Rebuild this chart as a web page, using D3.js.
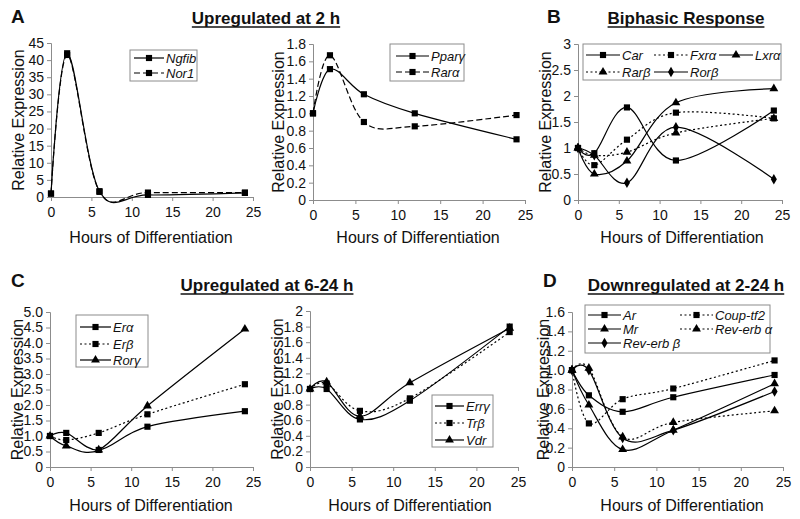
<!DOCTYPE html>
<html>
<head>
<meta charset="utf-8">
<script src="https://cdn.jsdelivr.net/npm/d3@7"></script>
<style>
  body { margin: 0; background: #fff; }
  svg { display: block; font-family: "Liberation Sans", Arial, sans-serif; }
</style>
</head>
<body>
<svg id="chart" width="800" height="519"></svg>
<script>
// ---------- data ----------
const hours = [0, 2, 6, 12, 24];
const xTicks = [0, 5, 10, 15, 20, 25];

// Panel A (left): Upregulated at 2 h
const ngfib = [1.0, 42.0, 1.7, 0.6, 1.2];
const nor1  = [1.0, 41.5, 1.5, 1.3, 1.3];
// Panel A (right)
const ppary = [1.0, 1.51, 1.22, 1.0, 0.70];
const rara  = [1.0, 1.67, 0.90, 0.85, 0.98];
// Panel B: Biphasic Response
const car   = [1.0, 0.90, 1.78, 0.76, 1.72];
const fxra  = [1.0, 0.67, 1.16, 1.68, 1.57];
const lxra  = [1.0, 0.50, 0.75, 1.87, 2.14];
const rarb  = [1.0, 0.86, 0.92, 1.29, 1.57];
const rorb  = [1.0, 0.86, 0.33, 1.40, 0.40];
// Panel C (left): Upregulated at 6-24 h
const era   = [1.0, 1.10, 0.55, 1.30, 1.80];
const erb   = [1.0, 0.87, 1.10, 1.70, 2.67];
const rorg  = [1.0, 0.68, 0.55, 1.97, 4.45];
// Panel C (right)
const errg  = [1.0, 1.00, 0.61, 0.85, 1.80];
const trb   = [1.0, 1.07, 0.72, 0.88, 1.73];
const vdr   = [1.0, 1.09, 0.65, 1.08, 1.78];
// Panel D: Downregulated at 2-24 h
const ar      = [1.0, 0.74, 0.57, 0.72, 0.95];
const couptf2 = [1.0, 0.45, 0.70, 0.81, 1.10];
const mr      = [1.0, 0.64, 0.18, 0.38, 0.86];
const reverba = [1.0, 1.02, 0.31, 0.46, 0.58];
const reverbb = [1.0, 1.00, 0.30, 0.38, 0.78];

// tick labels
const yTicksA1 = ["0","5","10","15","20","25","30","35","40","45"];
const yTicksA2 = ["0","0.2","0.4","0.6","0.8","1.0","1.2","1.4","1.6","1.8"];
const yTicksB  = ["0","0.5","1","1.5","2","2.5","3"];
const yTicksC1 = ["0","0.5","1.0","1.5","2.0","2.5","3.0","3.5","4.0","4.5","5.0"];
const yTicksC2 = ["0","0.2","0.4","0.6","0.8","1.0","1.2","1.4","1.6","1.8","2"];
const yTicksD  = ["0","0.2","0.4","0.6","0.8","1.0","1.2","1.4","1.6"];

// ---------- drawing ----------
const svg = d3.select("#chart");
const AXIS = "#8c8c8c";

function marker(g, type, x, y) {
  let sym;
  if (type === "square") sym = d3.symbol(d3.symbolSquare, 38);
  else if (type === "triangle") sym = d3.symbol(d3.symbolTriangle, 34);
  else sym = d3.symbol(d3.symbolDiamond, 32);
  g.append("path").attr("d", sym()).attr("transform", `translate(${x},${y})`)
    .attr("fill", "#000");
}
function dashFor(style) {
  if (style === "dash") return "6,3";
  if (style === "dot") return "2,2.5";
  return null;
}

function panel(cfg) {
  const x = d3.scaleLinear().domain([0, 25]).range([cfg.x0, cfg.x1]);
  const y = d3.scaleLinear().domain([0, cfg.ymax]).range([cfg.y1, cfg.y0]);
  const g = svg.append("g");

  // y axis
  const yVals = cfg.yLabels.map(Number);
  const ya = d3.axisLeft(y).tickValues(yVals).tickSize(4).tickPadding(3)
    .tickFormat((d, i) => cfg.yLabels[i]);
  const yg = g.append("g").attr("transform", `translate(${cfg.x0},0)`).call(ya);
  // x axis
  const xa = d3.axisBottom(x).tickValues(xTicks).tickSize(4).tickPadding(6);
  const xg = g.append("g").attr("transform", `translate(0,${cfg.y1})`).call(xa);
  [yg, xg].forEach(a => {
    a.select(".domain").attr("stroke", AXIS);
    a.selectAll(".tick line").attr("stroke", AXIS);
    a.selectAll("text").attr("fill", "#111").attr("font-size", 14)
      .attr("font-family", "Liberation Sans, Arial, sans-serif");
  });

  // series
  const line = d3.line().x((d, i) => x(hours[i])).y(d => y(d))
    .curve(d3.curveCatmullRom.alpha(0));
  cfg.series.forEach(s => {
    g.append("path").attr("d", line(s.values)).attr("fill", "none")
      .attr("stroke", "#000").attr("stroke-width", 1.2)
      .attr("stroke-dasharray", dashFor(s.style));
  });
  cfg.series.forEach(s => {
    s.values.forEach((v, i) => marker(g, s.marker, x(hours[i]), y(v)));
  });

  // axis titles
  g.append("text").attr("x", cfg.xt).attr("y", cfg.xty).attr("text-anchor", "middle")
    .attr("font-size", 16).attr("fill", "#111").text("Hours of Differentiation");
  g.append("text").attr("transform", `translate(${cfg.yt},${(cfg.y0 + cfg.y1) / 2}) rotate(-90)`)
    .attr("text-anchor", "middle").attr("dominant-baseline", "central")
    .attr("font-size", 16).attr("fill", "#111").text("Relative Expression");

  // legend
  const L = cfg.legend;
  g.append("rect").attr("x", L.x).attr("y", L.y).attr("width", L.w).attr("height", L.h)
    .attr("fill", "#fff").attr("stroke", "#8c8c8c").attr("stroke-width", 1);
  cfg.series.forEach((s, i) => {
    const p = L.pos[i];
    g.append("line").attr("x1", p[0]).attr("x2", p[0] + L.len).attr("y1", p[1]).attr("y2", p[1])
      .attr("stroke", "#000").attr("stroke-width", 1.2).attr("stroke-dasharray", dashFor(s.style));
    marker(g, s.marker, p[0] + L.len / 2, p[1]);
    g.append("text").attr("x", p[0] + L.len + 2).attr("y", p[1]).attr("dominant-baseline", "central")
      .attr("font-size", 13).attr("font-style", "italic").attr("fill", "#111").text(s.name);
  });
}

// Panel A left
panel({
  x0: 51, x1: 253, y0: 43, y1: 197, ymax: 45, yLabels: yTicksA1,
  xt: 151, xty: 243, yt: 18,
  series: [
    { name: "Ngfib", values: ngfib, style: "solid", marker: "square" },
    { name: "Nor1", values: nor1, style: "dash", marker: "square" }
  ],
  legend: { x: 130, y: 50, w: 67, h: 31, len: 30, pos: [[134, 58], [134, 73]] }
});
// Panel A right
panel({
  x0: 313, x1: 525, y0: 44, y1: 200, ymax: 1.8, yLabels: yTicksA2,
  xt: 418, xty: 243, yt: 278,
  series: [
    { name: "Pparγ", values: ppary, style: "solid", marker: "square" },
    { name: "Rarα", values: rara, style: "dash", marker: "square" }
  ],
  legend: { x: 390, y: 44, w: 74, h: 37, len: 33, pos: [[396, 56], [396, 72]] }
});
// Panel B
panel({
  x0: 578, x1: 782, y0: 44, y1: 200, ymax: 3, yLabels: yTicksB,
  xt: 682, xty: 243, yt: 545,
  series: [
    { name: "Car", values: car, style: "solid", marker: "square" },
    { name: "Fxrα", values: fxra, style: "dot", marker: "square" },
    { name: "Lxrα", values: lxra, style: "solid", marker: "triangle" },
    { name: "Rarβ", values: rarb, style: "dot", marker: "triangle" },
    { name: "Rorβ", values: rorb, style: "solid", marker: "diamond" }
  ],
  legend: { x: 583, y: 44, w: 198, h: 36, len: 34,
    pos: [[586, 55], [654, 55], [719, 55], [586, 72], [654, 72]] }
});
// Panel C left
panel({
  x0: 50, x1: 253, y0: 312, y1: 467, ymax: 5, yLabels: yTicksC1,
  xt: 151, xty: 511, yt: 17,
  series: [
    { name: "Erα", values: era, style: "solid", marker: "square" },
    { name: "Erβ", values: erb, style: "dot", marker: "square" },
    { name: "Rorγ", values: rorg, style: "solid", marker: "triangle" }
  ],
  legend: { x: 76, y: 315, w: 72, h: 52, len: 31, pos: [[80, 327], [80, 344], [80, 360]] }
});
// Panel C right
panel({
  x0: 310, x1: 518, y0: 311, y1: 467, ymax: 2, yLabels: yTicksC2,
  xt: 410, xty: 511, yt: 277,
  series: [
    { name: "Errγ", values: errg, style: "solid", marker: "square" },
    { name: "Trβ", values: trb, style: "dot", marker: "square" },
    { name: "Vdr", values: vdr, style: "solid", marker: "triangle" }
  ],
  legend: { x: 432, y: 395, w: 61, h: 52, len: 29, pos: [[435, 406], [435, 423], [435, 440]] }
});
// Panel D
panel({
  x0: 572, x1: 783, y0: 312, y1: 467, ymax: 1.6, yLabels: yTicksD,
  xt: 682, xty: 511, yt: 543,
  series: [
    { name: "Ar", values: ar, style: "solid", marker: "square" },
    { name: "Coup-tf2", values: couptf2, style: "dot", marker: "square" },
    { name: "Mr", values: mr, style: "solid", marker: "triangle" },
    { name: "Rev-erb α", values: reverba, style: "dot", marker: "triangle" },
    { name: "Rev-erb β", values: reverbb, style: "solid", marker: "diamond" }
  ],
  legend: { x: 585, y: 305, w: 185, h: 48, len: 33,
    pos: [[588, 315], [680, 315], [588, 329], [680, 329], [588, 343]] }
});

// titles and panel letters
const titles = [
  { t: "Upregulated at 2 h", x: 266, y: 24 },
  { t: "Biphasic Response", x: 686, y: 24 },
  { t: "Upregulated at 6-24 h", x: 267, y: 291 },
  { t: "Downregulated at 2-24 h", x: 686, y: 291 }
];
titles.forEach(d => {
  const t = svg.append("text").attr("x", d.x).attr("y", d.y).attr("text-anchor", "middle")
    .attr("font-size", 17).attr("font-weight", "bold").attr("fill", "#111").text(d.t);
  const bb = t.node().getBBox();
  svg.append("line").attr("x1", bb.x).attr("x2", bb.x + bb.width)
    .attr("y1", d.y + 3).attr("y2", d.y + 3).attr("stroke", "#111").attr("stroke-width", 1.5);
});
const letters = [
  { t: "A", x: 11, y: 23 }, { t: "B", x: 547, y: 23 },
  { t: "C", x: 11, y: 287 }, { t: "D", x: 543, y: 287 }
];
letters.forEach(d => {
  svg.append("text").attr("x", d.x).attr("y", d.y).attr("font-size", 19)
    .attr("font-weight", "bold").attr("fill", "#111").text(d.t);
});
</script>
</body>
</html>
